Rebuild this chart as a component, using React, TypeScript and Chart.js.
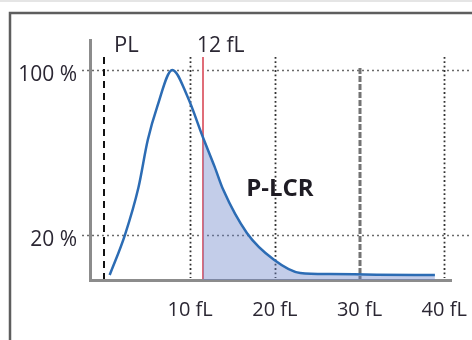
import React, { useEffect, useRef } from "react";
import { Chart, registerables } from "chart.js";

Chart.register(...registerables);

// Platelet volume distribution curve (fL vs % of peak)
const curveX = [0.5, 2.3, 3.9, 5.0, 6.1, 7.9, 9.7, 11.5, 12.9, 13.9, 16.7, 19.9, 23.0, 26.5, 32.0, 38.9];
const curveY = [0.6, 20, 43, 66, 82, 100, 87, 67.5, 53, 42, 21, 8, 1.6, 1.1, 0.8, 0.6];

// Shaded P-LCR region (from the 12 fL threshold onwards)
const lcrX = [11.5, 12.9, 13.9, 16.7, 19.9, 23.0, 26.5, 32.0, 38.9];
const lcrY = [67.5, 53, 42, 21, 8, 1.6, 1.1, 0.8, 0.6];

const xTicks = [10, 20, 30, 40];
const yTicks = [20, 100];
const xGrid = [10, 20, 40];
const xDashed = [30];
const plValue = -0.2;
const thresholdValue = 11.5;
const thresholdLabel = "12 fL";
const plLabel = "PL";
const lcrLabel = "P-LCR";
const lcrLabelPos = { x: 20.6, y: 42 };

const X_MIN = -1.82;
const X_MAX = 40.8;
const Y_MIN = -1.8;
const Y_MAX = 114.5;

const TEXT = "#2b2733";
const FONT = '"Open Sans", "DejaVu Sans", sans-serif';

const decor = {
  id: "decor",
  beforeDraw(chart: any) {
    const ctx = chart.ctx;
    ctx.save();
    ctx.fillStyle = "#ffffff";
    ctx.fillRect(0, 0, chart.width, chart.height);
    ctx.strokeStyle = "#dcdcdc";
    ctx.lineWidth = 1.5;
    ctx.beginPath();
    ctx.moveTo(0, 1);
    ctx.lineTo(chart.width, 1);
    ctx.stroke();
    ctx.strokeStyle = "#5e5e5e";
    ctx.lineWidth = 2.5;
    ctx.beginPath();
    ctx.moveTo(10, chart.height);
    ctx.lineTo(10, 13);
    ctx.lineTo(chart.width, 13);
    ctx.stroke();
    ctx.restore();
  },
  beforeDatasetsDraw(chart: any) {
    const ctx = chart.ctx;
    const xs = chart.scales.x;
    const ys = chart.scales.y;
    const area = chart.chartArea;
    const top100 = ys.getPixelForValue(100);
    ctx.save();
    // horizontal dotted gridlines
    ctx.strokeStyle = "#6a6a6a";
    ctx.lineWidth = 1.5;
    ctx.setLineDash([2, 3]);
    for (const v of yTicks) {
      const y = Math.round(ys.getPixelForValue(v)) + 0.5;
      ctx.beginPath();
      ctx.moveTo(area.left - 8, y);
      ctx.lineTo(chart.width, y);
      ctx.stroke();
    }
    // vertical dotted gridlines
    ctx.strokeStyle = "#333";
    ctx.lineWidth = 1.8;
    ctx.setLineDash([1.8, 2.6]);
    for (const v of xGrid) {
      const x = Math.round(xs.getPixelForValue(v)) + 0.5;
      ctx.beginPath();
      ctx.moveTo(x, top100 - 13);
      ctx.lineTo(x, area.bottom - 2);
      ctx.stroke();
    }
    // 30 fL dashed grey
    ctx.strokeStyle = "#737373";
    ctx.lineWidth = 3;
    ctx.setLineDash([6, 2]);
    for (const v of xDashed) {
      const x = Math.round(xs.getPixelForValue(v));
      ctx.beginPath();
      ctx.moveTo(x, top100 - 2);
      ctx.lineTo(x, area.bottom - 1);
      ctx.stroke();
    }
    // PL dashed black
    const plX = Math.round(xs.getPixelForValue(plValue));
    ctx.strokeStyle = "#111";
    ctx.lineWidth = 2;
    ctx.setLineDash([7, 5]);
    ctx.beginPath();
    ctx.moveTo(plX, top100 - 13);
    ctx.lineTo(plX, area.bottom - 1);
    ctx.stroke();
    // 12 fL red line
    const rX = Math.round(xs.getPixelForValue(thresholdValue));
    ctx.setLineDash([]);
    ctx.strokeStyle = "#e06d78";
    ctx.lineWidth = 2;
    ctx.beginPath();
    ctx.moveTo(rX, top100 - 13);
    ctx.lineTo(rX, area.bottom - 1);
    ctx.stroke();
    // labels
    ctx.fillStyle = TEXT;
    ctx.textBaseline = "middle";
    ctx.textAlign = "left";
    ctx.font = `500 22px ${FONT}`;
    ctx.fillText(plLabel, plX + 10, top100 - 24);
    ctx.font = `500 21px ${FONT}`;
    ctx.fillText(thresholdLabel, rX - 6, top100 - 24);
    ctx.restore();
  },
  afterDatasetsDraw(chart: any) {
    const ctx = chart.ctx;
    const xs = chart.scales.x;
    const ys = chart.scales.y;
    ctx.save();
    ctx.fillStyle = "#1f1c24";
    ctx.font = `bold 24px ${FONT}`;
    ctx.textAlign = "center";
    ctx.textBaseline = "middle";
    ctx.fillText(lcrLabel, xs.getPixelForValue(lcrLabelPos.x), ys.getPixelForValue(lcrLabelPos.y));
    ctx.restore();
  },
};

export default function App() {
  const ref = useRef<HTMLCanvasElement>(null);
  useEffect(() => {
    if (!ref.current) return;
    const chart = new Chart(ref.current, {
      type: "line",
      data: {
        datasets: [
          {
            data: curveX.map((x, i) => ({ x, y: curveY[i] })),
            borderColor: "#2c6cb4",
            borderWidth: 2.5,
            pointRadius: 0,
            cubicInterpolationMode: "monotone",
            fill: false,
            order: 0,
          },
          {
            data: lcrX.map((x, i) => ({ x, y: lcrY[i] })),
            borderWidth: 0,
            borderColor: "rgba(0,0,0,0)",
            backgroundColor: "rgba(105,130,200,0.4)",
            pointRadius: 0,
            cubicInterpolationMode: "monotone",
            fill: { value: Y_MIN },
            order: 1,
          },
        ],
      },
      options: {
        responsive: false,
        devicePixelRatio: 1,
        animation: false,
        events: [],
        layout: { padding: { left: 10, top: 40, right: 21, bottom: 0 } },
        plugins: { legend: { display: false }, tooltip: { enabled: false } },
        scales: {
          x: {
            type: "linear",
            min: X_MIN,
            max: X_MAX,
            border: { display: true, color: "#8c8c8c", width: 3 },
            grid: { display: false, drawTicks: false },
            ticks: {
              color: TEXT,
              font: { family: FONT, size: 20, weight: "500" },
              padding: 18,
              maxRotation: 0,
              autoSkip: false,
              callback: (v: any) => `${v} fL`,
            },
            afterBuildTicks: (s: any) => {
              s.ticks = xTicks.map((v) => ({ value: v }));
            },
            afterFit: (s: any) => {
              s.height = 60;
              s.paddingLeft = 0;
              s.paddingRight = 0;
            },
          },
          y: {
            type: "linear",
            min: Y_MIN,
            max: Y_MAX,
            border: { display: true, color: "#8c8c8c", width: 3 },
            grid: { display: false, drawTicks: false },
            ticks: {
              color: TEXT,
              font: { family: FONT, size: 21, weight: "500" },
              padding: 13,
              labelOffset: 5,
              callback: (v: any) => `${v} %`,
            },
            afterBuildTicks: (s: any) => {
              s.ticks = yTicks.map((v) => ({ value: v }));
            },
            afterFit: (s: any) => {
              s.width = 80;
              s.paddingTop = 0;
              s.paddingBottom = 0;
            },
          },
        },
      },
      plugins: [decor],
    });
    return () => chart.destroy();
  }, []);
  return (
    <div style={{ position: "fixed", left: 0, top: 0, width: 472, height: 340, background: "#fff" }}>
      <canvas ref={ref} width={472} height={340} style={{ display: "block" }} />
    </div>
  );
}
